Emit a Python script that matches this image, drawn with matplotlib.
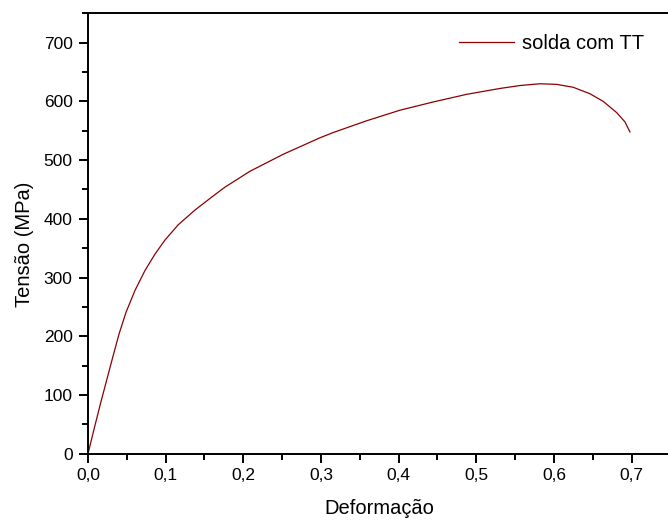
import matplotlib
matplotlib.use("Agg")
import matplotlib.pyplot as plt
from matplotlib.ticker import MultipleLocator, FuncFormatter

# strain / stress
deformacao = [0, 0.008, 0.016, 0.024, 0.032, 0.040, 0.049, 0.0605, 0.0734, 0.0863,
              0.0992, 0.1163, 0.1378, 0.1593, 0.1764, 0.2086, 0.2515, 0.2987, 0.3159, 0.3589,
              0.4018, 0.4446, 0.4876, 0.5305, 0.5563, 0.582, 0.6035, 0.6249, 0.6464, 0.6635,
              0.6807, 0.6915, 0.6979]
tensao = [0, 43, 85, 125, 165, 204, 241, 278, 312, 340,
          364, 390, 415, 437, 454, 481, 510, 538, 547, 567,
          585, 599, 612, 622, 627, 630, 629, 624, 613, 600,
          581, 565, 548]
legenda = "solda com TT"

plt.rcParams['font.family'] = ['Liberation Sans', 'DejaVu Sans']

fig = plt.figure(figsize=(6.68, 5.24), dpi=100)
# axes run a little past the right edge of the picture (right spine cut off)
ax = fig.add_axes([88 / 668, 70.3 / 524, 582.4 / 668, 440.4 / 524])

ax.plot(deformacao, tensao, color='#8b0000', lw=0.9, label=legenda)

ax.set_xlim(0, 0.75)
ax.set_ylim(0, 750)
ax.xaxis.set_minor_locator(MultipleLocator(0.05))
ax.yaxis.set_minor_locator(MultipleLocator(50))
ax.set_xticks([0, 0.1, 0.2, 0.3, 0.4, 0.5, 0.6, 0.7])
ax.xaxis.set_major_formatter(FuncFormatter(lambda v, p: f"{v:.1f}".replace('.', ',')))
ax.set_yticks(range(0, 701, 100))

ax.spines['right'].set_visible(False)
for s in ['left', 'bottom', 'top']:
    ax.spines[s].set_linewidth(1.4)
ax.tick_params(which='major', direction='out', length=6.5, width=1.4, labelsize=12.5, pad=4.5)
ax.tick_params(which='minor', direction='out', length=4, width=1.4)
ax.tick_params(axis='x', pad=3.6)
ax.tick_params(top=False, right=False, which='both')

ax.set_xlabel("Deformação", fontsize=14.5)
ax.set_ylabel("Tensão (MPa)", fontsize=14.5)
ax.xaxis.set_label_coords(0.5, -0.103)
ax.yaxis.set_label_coords(-0.093, 0.476)

ax.legend(loc='center left', bbox_to_anchor=(0.6375, 0.931), frameon=False,
          fontsize=14.5, handlelength=2.74, handletextpad=0.37,
          borderpad=0, borderaxespad=0)

plt.savefig("out.png", dpi=100)
